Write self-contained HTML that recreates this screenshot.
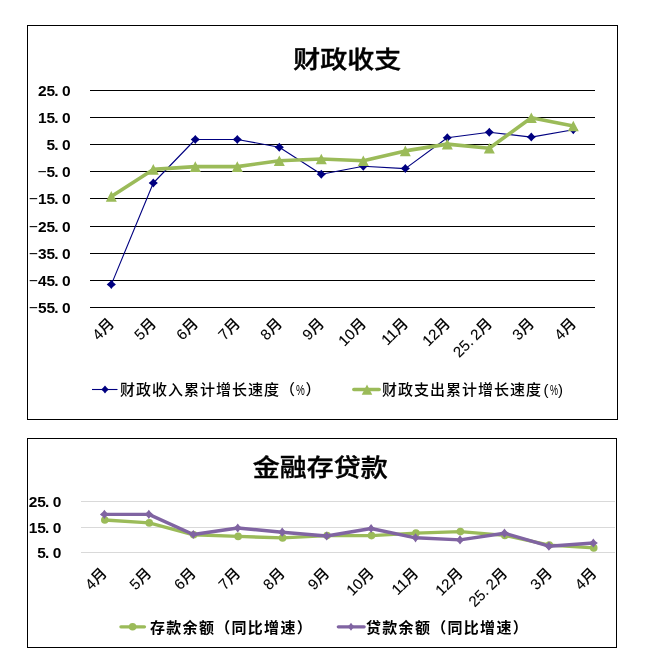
<!DOCTYPE html>
<html lang="zh-CN"><head><meta charset="utf-8"><title>财政收支 金融存贷款</title>
<style>
html,body{margin:0;padding:0;background:#fff;}
body{width:648px;height:670px;position:relative;overflow:hidden;}
.box{position:absolute;border:1px solid #000;box-sizing:border-box;background:#fff;}
#b1{left:27px;top:25px;width:591px;height:395px;}
#b2{left:27px;top:438px;width:590px;height:210px;}
svg{position:absolute;left:0;top:0;will-change:transform;}
svg text{font-family:"Liberation Sans", "Noto Sans CJK SC", sans-serif;fill:#000;}
.yl text{font-family:"Liberation Sans", sans-serif;}
.d{letter-spacing:3.4px;}
.d2{letter-spacing:3.4px;}
.t{stroke:#000;stroke-width:0.45px;}
.xl text{font-weight:500;stroke:#000;stroke-width:0.1px;}
.lg{position:absolute;font-family:"Liberation Sans", "Noto Sans CJK SC", sans-serif;font-size:16px;line-height:20px;white-space:nowrap;color:#000;z-index:2;will-change:transform;}
.lg.b{font-weight:700;font-size:15px;letter-spacing:1.3px;}
#l1,#l2{font-weight:500;font-size:15px;letter-spacing:1px;}
.pc{display:inline-block;width:8.6px;transform:scaleX(.6);transform-origin:0 50%;}
.pl{margin-left:1.5px;}
.pb{width:9.4px;transform:scaleX(.66);}
#l1{left:120px;top:379.5px;}
#l2{left:382px;top:379.5px;}
#l3{left:149.5px;top:617.8px;}
#l4{left:366.4px;top:617.8px;}
</style></head>
<body>
<div class="box" id="b1"></div>
<div class="box" id="b2"></div>
<div class="lg" id="l1">财政收入累计增长速度（<span class="pc pb">%</span>）</div>
<div class="lg" id="l2">财政支出累计增长速度<span class="pl">(</span><span class="pc">%</span>)</div>
<div class="lg b" id="l3">存款余额（同比增速）</div>
<div class="lg b" id="l4">贷款余额（同比增速）</div>
<svg width="648" height="670" viewBox="0 0 648 670">
<g stroke="#000" stroke-width="1"><line x1="90" x2="595" y1="90.5" y2="90.5"/><line x1="90" x2="595" y1="117.5" y2="117.5"/><line x1="90" x2="595" y1="144.5" y2="144.5"/><line x1="90" x2="595" y1="171.5" y2="171.5"/><line x1="90" x2="595" y1="198.5" y2="198.5"/><line x1="90" x2="595" y1="226.5" y2="226.5"/><line x1="90" x2="595" y1="253.5" y2="253.5"/><line x1="90" x2="595" y1="280.5" y2="280.5"/><line x1="90" x2="595" y1="307.5" y2="307.5"/></g>
<g class="yl" font-weight="700"><text x="70.5" y="95.8" text-anchor="end" font-size="15.5">25<tspan class="d" dx="-1">.</tspan>0</text><text x="70.5" y="122.8" text-anchor="end" font-size="15.5">15<tspan class="d" dx="-1">.</tspan>0</text><text x="70.5" y="149.8" text-anchor="end" font-size="15.5">5<tspan class="d" dx="-1">.</tspan>0</text><text x="70.5" y="176.8" text-anchor="end" font-size="15.5"><tspan font-weight="400" class="m">&#8722;</tspan>5<tspan class="d" dx="-1">.</tspan>0</text><text x="70.5" y="203.8" text-anchor="end" font-size="15.5"><tspan font-weight="400" class="m">&#8722;</tspan>15<tspan class="d" dx="-1">.</tspan>0</text><text x="70.5" y="231.8" text-anchor="end" font-size="15.5"><tspan font-weight="400" class="m">&#8722;</tspan>25<tspan class="d" dx="-1">.</tspan>0</text><text x="70.5" y="258.8" text-anchor="end" font-size="15.5"><tspan font-weight="400" class="m">&#8722;</tspan>35<tspan class="d" dx="-1">.</tspan>0</text><text x="70.5" y="285.8" text-anchor="end" font-size="15.5"><tspan font-weight="400" class="m">&#8722;</tspan>45<tspan class="d" dx="-1">.</tspan>0</text><text x="70.5" y="312.8" text-anchor="end" font-size="15.5"><tspan font-weight="400" class="m">&#8722;</tspan>55<tspan class="d" dx="-1">.</tspan>0</text></g>
<g class="xl"><text x="115" y="324.5" text-anchor="end" transform="rotate(-45 115 324.5)" font-size="15">4月</text><text x="157" y="324.5" text-anchor="end" transform="rotate(-45 157 324.5)" font-size="15">5月</text><text x="199" y="324.5" text-anchor="end" transform="rotate(-45 199 324.5)" font-size="15">6月</text><text x="241" y="324.5" text-anchor="end" transform="rotate(-45 241 324.5)" font-size="15">7月</text><text x="283" y="324.5" text-anchor="end" transform="rotate(-45 283 324.5)" font-size="15">8月</text><text x="325" y="324.5" text-anchor="end" transform="rotate(-45 325 324.5)" font-size="15">9月</text><text x="367" y="324.5" text-anchor="end" transform="rotate(-45 367 324.5)" font-size="15">10月</text><text x="409" y="324.5" text-anchor="end" transform="rotate(-45 409 324.5)" font-size="15">11月</text><text x="451" y="324.5" text-anchor="end" transform="rotate(-45 451 324.5)" font-size="15">12月</text><text x="493" y="324.5" text-anchor="end" transform="rotate(-45 493 324.5)" font-size="15">25<tspan class="d2">.</tspan>2月</text><text x="535" y="324.5" text-anchor="end" transform="rotate(-45 535 324.5)" font-size="15">3月</text><text x="577" y="324.5" text-anchor="end" transform="rotate(-45 577 324.5)" font-size="15">4月</text></g>
<polyline points="111.3,284.6 153.3,183 195.3,139.5 237.3,139.5 279.3,147.2 321.3,174.3 363.3,166.2 405.3,168.6 447.3,137.8 489.3,132.2 531.3,137.1 573.3,129.7" fill="none" stroke="#000080" stroke-width="1.1" stroke-linejoin="round"/>
<path fill="#000080" d="M111.3 280.1Q113.23 282.71 115.9 284.6Q113.23 286.49 111.3 289.1Q109.37 286.49 106.7 284.6Q109.37 282.71 111.3 280.1ZM153.3 178.5Q155.23 181.11 157.9 183Q155.23 184.89 153.3 187.5Q151.37 184.89 148.7 183Q151.37 181.11 153.3 178.5ZM195.3 135Q197.23 137.61 199.9 139.5Q197.23 141.39 195.3 144Q193.37 141.39 190.7 139.5Q193.37 137.61 195.3 135ZM237.3 135Q239.23 137.61 241.9 139.5Q239.23 141.39 237.3 144Q235.37 141.39 232.7 139.5Q235.37 137.61 237.3 135ZM279.3 142.7Q281.23 145.31 283.9 147.2Q281.23 149.09 279.3 151.7Q277.37 149.09 274.7 147.2Q277.37 145.31 279.3 142.7ZM321.3 169.8Q323.23 172.41 325.9 174.3Q323.23 176.19 321.3 178.8Q319.37 176.19 316.7 174.3Q319.37 172.41 321.3 169.8ZM363.3 161.7Q365.23 164.31 367.9 166.2Q365.23 168.09 363.3 170.7Q361.37 168.09 358.7 166.2Q361.37 164.31 363.3 161.7ZM405.3 164.1Q407.23 166.71 409.9 168.6Q407.23 170.49 405.3 173.1Q403.37 170.49 400.7 168.6Q403.37 166.71 405.3 164.1ZM447.3 133.3Q449.23 135.91 451.9 137.8Q449.23 139.69 447.3 142.3Q445.37 139.69 442.7 137.8Q445.37 135.91 447.3 133.3ZM489.3 127.7Q491.23 130.31 493.9 132.2Q491.23 134.09 489.3 136.7Q487.37 134.09 484.7 132.2Q487.37 130.31 489.3 127.7ZM531.3 132.6Q533.23 135.21 535.9 137.1Q533.23 138.99 531.3 141.6Q529.37 138.99 526.7 137.1Q529.37 135.21 531.3 132.6ZM573.3 125.2Q575.23 127.81 577.9 129.7Q575.23 131.59 573.3 134.2Q571.37 131.59 568.7 129.7Q571.37 127.81 573.3 125.2Z"/>
<polyline points="111.3,196.4 153.3,169.4 195.3,166.6 237.3,166.6 279.3,160.8 321.3,159 363.3,160.7 405.3,150.9 447.3,144.1 489.3,148.2 531.3,117.8 573.3,126" fill="none" stroke="#9BBB59" stroke-width="3.6" stroke-linejoin="round"/>
<path fill="#9BBB59" d="M111.3 191.1L116.8 201.7L105.8 201.7ZM153.3 164.1L158.8 174.7L147.8 174.7ZM195.3 161.3L200.8 171.9L189.8 171.9ZM237.3 161.3L242.8 171.9L231.8 171.9ZM279.3 155.5L284.8 166.1L273.8 166.1ZM321.3 153.7L326.8 164.3L315.8 164.3ZM363.3 155.4L368.8 166L357.8 166ZM405.3 145.6L410.8 156.2L399.8 156.2ZM447.3 138.8L452.8 149.4L441.8 149.4ZM489.3 142.9L494.8 153.5L483.8 153.5ZM531.3 112.5L536.8 123.1L525.8 123.1ZM573.3 120.7L578.8 131.3L567.8 131.3Z"/>
<text x="347.2" y="69.5" text-anchor="middle" font-size="27" font-weight="500" class="t" transform="translate(0 59.4) scale(1 0.9) translate(0 -59.4)">财政收支</text>
<line x1="92" x2="117.5" y1="389.5" y2="389.5" stroke="#000080" stroke-width="1.1"/>
<path fill="#000080" d="M105 385.6Q106.64 387.86 108.9 389.5Q106.64 391.14 105 393.4Q103.36 391.14 101.1 389.5Q103.36 387.86 105 385.6Z"/>
<line x1="353.8" x2="379.2" y1="389.5" y2="389.5" stroke="#9BBB59" stroke-width="3.4" stroke-linecap="round"/>
<path fill="#9BBB59" d="M367 384.6L372.25 394.8L361.75 394.8Z"/>
<g stroke="#D9D9D9" stroke-width="1"><line x1="81" x2="615" y1="501.5" y2="501.5"/><line x1="81" x2="615" y1="527.5" y2="527.5"/><line x1="81" x2="615" y1="552.5" y2="552.5"/></g>
<g class="yl" font-weight="700"><text x="61.3" y="506.6" text-anchor="end" font-size="15.5">25<tspan class="d" dx="-1">.</tspan>0</text><text x="61.3" y="532.6" text-anchor="end" font-size="15.5">15<tspan class="d" dx="-1">.</tspan>0</text><text x="61.3" y="557.6" text-anchor="end" font-size="15.5">5<tspan class="d" dx="-1">.</tspan>0</text></g>
<g class="xl"><text x="107.8" y="574.2" text-anchor="end" transform="rotate(-45 107.8 574.2)" font-size="15">4月</text><text x="152.32" y="574.2" text-anchor="end" transform="rotate(-45 152.32 574.2)" font-size="15">5月</text><text x="196.84" y="574.2" text-anchor="end" transform="rotate(-45 196.84 574.2)" font-size="15">6月</text><text x="241.36" y="574.2" text-anchor="end" transform="rotate(-45 241.36 574.2)" font-size="15">7月</text><text x="285.88" y="574.2" text-anchor="end" transform="rotate(-45 285.88 574.2)" font-size="15">8月</text><text x="330.4" y="574.2" text-anchor="end" transform="rotate(-45 330.4 574.2)" font-size="15">9月</text><text x="374.92" y="574.2" text-anchor="end" transform="rotate(-45 374.92 574.2)" font-size="15">10月</text><text x="419.44" y="574.2" text-anchor="end" transform="rotate(-45 419.44 574.2)" font-size="15">11月</text><text x="463.96" y="574.2" text-anchor="end" transform="rotate(-45 463.96 574.2)" font-size="15">12月</text><text x="508.48" y="574.2" text-anchor="end" transform="rotate(-45 508.48 574.2)" font-size="15">25<tspan class="d2">.</tspan>2月</text><text x="553" y="574.2" text-anchor="end" transform="rotate(-45 553 574.2)" font-size="15">3月</text><text x="597.52" y="574.2" text-anchor="end" transform="rotate(-45 597.52 574.2)" font-size="15">4月</text></g>
<polyline points="104.8,520 149.25,522.9 193.7,534.8 238.15,536.4 282.6,537.9 327.05,535.6 371.5,535.6 415.95,533.1 460.4,531.6 504.85,535.4 549.3,545.1 593.75,547.9" fill="none" stroke="#9BBB59" stroke-width="3.4" stroke-linejoin="round"/>
<g fill="#9BBB59"><circle cx="104.8" cy="520" r="3.8"/><circle cx="149.25" cy="522.9" r="3.8"/><circle cx="193.7" cy="534.8" r="3.8"/><circle cx="238.15" cy="536.4" r="3.8"/><circle cx="282.6" cy="537.9" r="3.8"/><circle cx="327.05" cy="535.6" r="3.8"/><circle cx="371.5" cy="535.6" r="3.8"/><circle cx="415.95" cy="533.1" r="3.8"/><circle cx="460.4" cy="531.6" r="3.8"/><circle cx="504.85" cy="535.4" r="3.8"/><circle cx="549.3" cy="545.1" r="3.8"/><circle cx="593.75" cy="547.9" r="3.8"/></g>
<polyline points="104.4,514.4 148.85,514.4 193.3,534.5 237.75,528 282.2,532.2 326.65,536 371.1,528.5 415.55,537.8 460,539.9 504.45,533.2 548.9,546.2 593.35,543" fill="none" stroke="#8064A2" stroke-width="3.4" stroke-linejoin="round"/>
<path fill="#8064A2" d="M104.4 509.8Q106.11 512.65 108.9 514.4Q106.11 516.15 104.4 519Q102.69 516.15 99.9 514.4Q102.69 512.65 104.4 509.8ZM148.85 509.8Q150.56 512.65 153.35 514.4Q150.56 516.15 148.85 519Q147.14 516.15 144.35 514.4Q147.14 512.65 148.85 509.8ZM193.3 529.9Q195.01 532.75 197.8 534.5Q195.01 536.25 193.3 539.1Q191.59 536.25 188.8 534.5Q191.59 532.75 193.3 529.9ZM237.75 523.4Q239.46 526.25 242.25 528Q239.46 529.75 237.75 532.6Q236.04 529.75 233.25 528Q236.04 526.25 237.75 523.4ZM282.2 527.6Q283.91 530.45 286.7 532.2Q283.91 533.95 282.2 536.8Q280.49 533.95 277.7 532.2Q280.49 530.45 282.2 527.6ZM326.65 531.4Q328.36 534.25 331.15 536Q328.36 537.75 326.65 540.6Q324.94 537.75 322.15 536Q324.94 534.25 326.65 531.4ZM371.1 523.9Q372.81 526.75 375.6 528.5Q372.81 530.25 371.1 533.1Q369.39 530.25 366.6 528.5Q369.39 526.75 371.1 523.9ZM415.55 533.2Q417.26 536.05 420.05 537.8Q417.26 539.55 415.55 542.4Q413.84 539.55 411.05 537.8Q413.84 536.05 415.55 533.2ZM460 535.3Q461.71 538.15 464.5 539.9Q461.71 541.65 460 544.5Q458.29 541.65 455.5 539.9Q458.29 538.15 460 535.3ZM504.45 528.6Q506.16 531.45 508.95 533.2Q506.16 534.95 504.45 537.8Q502.74 534.95 499.95 533.2Q502.74 531.45 504.45 528.6ZM548.9 541.6Q550.61 544.45 553.4 546.2Q550.61 547.95 548.9 550.8Q547.19 547.95 544.4 546.2Q547.19 544.45 548.9 541.6ZM593.35 538.4Q595.06 541.25 597.85 543Q595.06 544.75 593.35 547.6Q591.64 544.75 588.85 543Q591.64 541.25 593.35 538.4Z"/>
<text x="320.2" y="477.2" text-anchor="middle" font-size="27" font-weight="500" class="t" transform="translate(0 466.8) scale(1 0.9) translate(0 -466.8)">金融存贷款</text>
<line x1="120.9" x2="144.5" y1="626.8" y2="626.8" stroke="#9BBB59" stroke-width="3.2" stroke-linecap="round"/>
<circle cx="132.6" cy="626.8" r="3.8" fill="#9BBB59"/>
<line x1="338.3" x2="364.2" y1="626.8" y2="626.8" stroke="#8064A2" stroke-width="3.2" stroke-linecap="round"/>
<path fill="#8064A2" d="M351 622.8Q352.44 625.28 354.8 626.8Q352.44 628.32 351 630.8Q349.56 628.32 347.2 626.8Q349.56 625.28 351 622.8Z"/>
</svg>
</body></html>
